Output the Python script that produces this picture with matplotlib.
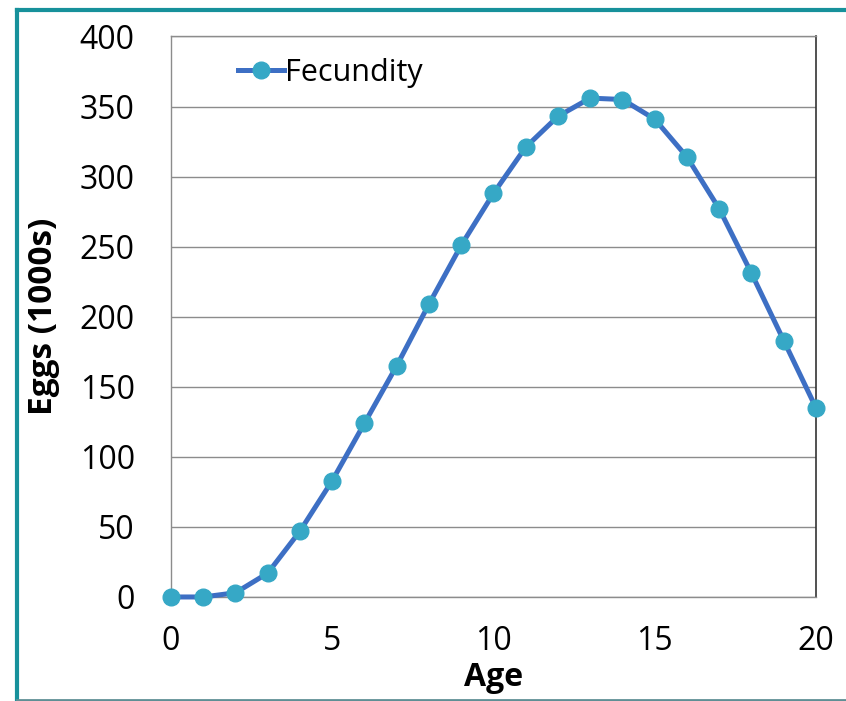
import matplotlib
matplotlib.use('Agg')
import matplotlib.pyplot as plt
from matplotlib.lines import Line2D

# dados
idade = list(range(0, 21))
ovos = [0, 0, 3, 17, 47, 83, 124, 165, 209, 251, 288, 321, 343, 356,
        355, 341, 314, 277, 231, 183, 135]

plt.rcParams['font.family'] = ['Open Sans', 'DejaVu Sans']

fig = plt.figure(figsize=(8.46, 7.01), dpi=100)
ax = fig.add_axes([0.2021, 0.1484, 0.7624, 0.7996])

ax.plot(idade, ovos, color='#3D6FC4', linewidth=3.6, marker='o',
        markersize=12, markerfacecolor='#36A8C6', markeredgecolor='#36A8C6',
        label='Fecundity', zorder=3, clip_on=False)

ax.set_xlim(0, 20)
ax.set_ylim(0, 400)
ax.set_xticks([0, 5, 10, 15, 20])
ax.set_yticks(range(0, 401, 50))
ax.tick_params(axis='both', length=0, labelsize=23)
ax.tick_params(axis='y', pad=26)
ax.tick_params(axis='x', pad=20)
ax.yaxis.grid(True, color='#8c8c8c', linewidth=1)
ax.set_axisbelow(True)
for lado in ['left', 'bottom', 'top']:
    ax.spines[lado].set_color('#8c8c8c')
    ax.spines[lado].set_linewidth(1)
ax.spines['right'].set_color('#333333')
ax.spines['right'].set_linewidth(1.2)

ax.set_ylabel('Eggs (1000s)', fontsize=24, fontweight='bold', labelpad=14)
ax.set_xlabel('Age', fontsize=23, fontweight='bold', labelpad=2)

ax.legend(loc='upper left', frameon=False, fontsize=22, handlelength=1.5,
          handletextpad=0.05, bbox_to_anchor=(0.075, 0.995), borderaxespad=0.2)

# moldura azul-esverdeada
fig.add_artist(Line2D([17 / 846, 1], [1 - 10 / 701, 1 - 10 / 701],
                      transform=fig.transFigure, color='#17919B', linewidth=3))
fig.add_artist(Line2D([17 / 846, 17 / 846], [1 - 10 / 701, 1 / 701],
                      transform=fig.transFigure, color='#17919B', linewidth=3))
fig.add_artist(Line2D([17 / 846, 1], [1.5 / 701, 1.5 / 701],
                      transform=fig.transFigure, color='#5f8f95', linewidth=2))

plt.savefig('out.png', dpi=100)
